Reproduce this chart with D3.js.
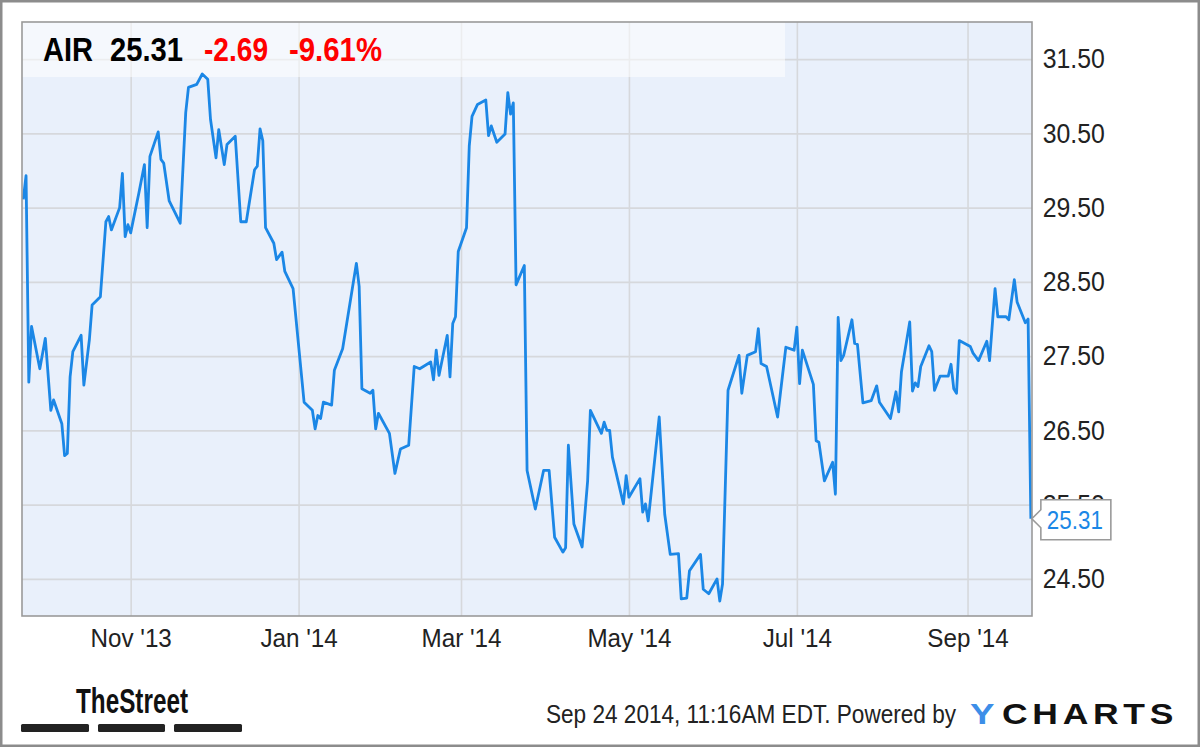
<!DOCTYPE html>
<html><head><meta charset="utf-8">
<script src="https://cdn.jsdelivr.net/npm/d3@7"></script>
<style>html,body{margin:0;padding:0;background:#fff;} svg{display:block;}</style>
</head><body><svg id="c" width="1200" height="747"></svg>
<script>
// ---- data ----
const dates = ["2013-09-23","2013-09-24","2013-09-25","2013-09-26","2013-09-29","2013-10-01","2013-10-03","2013-10-04","2013-10-07","2013-10-08","2013-10-09","2013-10-10","2013-10-11","2013-10-14","2013-10-15","2013-10-17","2013-10-18","2013-10-21","2013-10-23","2013-10-24","2013-10-25","2013-10-28","2013-10-29","2013-10-30","2013-10-31","2013-11-01","2013-11-04","2013-11-06","2013-11-07","2013-11-08","2013-11-11","2013-11-12","2013-11-13","2013-11-15","2013-11-19","2013-11-21","2013-11-22","2013-11-25","2013-11-27","2013-11-29","2013-11-30","2013-12-02","2013-12-03","2013-12-05","2013-12-06","2013-12-09","2013-12-11","2013-12-13","2013-12-16","2013-12-17","2013-12-18","2013-12-19","2013-12-20","2013-12-23","2013-12-24","2013-12-26","2013-12-27","2013-12-30","2014-01-03","2014-01-06","2014-01-07","2014-01-08","2014-01-09","2014-01-10","2014-01-13","2014-01-14","2014-01-17","2014-01-22","2014-01-23","2014-01-24","2014-01-27","2014-01-28","2014-01-29","2014-01-30","2014-02-03","2014-02-05","2014-02-07","2014-02-10","2014-02-12","2014-02-14","2014-02-18","2014-02-19","2014-02-20","2014-02-21","2014-02-24","2014-02-25","2014-02-26","2014-02-27","2014-02-28","2014-03-03","2014-03-04","2014-03-05","2014-03-07","2014-03-10","2014-03-11","2014-03-12","2014-03-14","2014-03-17","2014-03-18","2014-03-19","2014-03-20","2014-03-21","2014-03-24","2014-03-25","2014-03-28","2014-03-31","2014-04-02","2014-04-04","2014-04-07","2014-04-08","2014-04-09","2014-04-11","2014-04-14","2014-04-16","2014-04-17","2014-04-21","2014-04-22","2014-04-23","2014-04-24","2014-04-25","2014-04-29","2014-04-30","2014-05-01","2014-05-05","2014-05-06","2014-05-07","2014-05-08","2014-05-12","2014-05-14","2014-05-16","2014-05-19","2014-05-20","2014-05-22","2014-05-23","2014-05-27","2014-05-28","2014-05-30","2014-06-02","2014-06-03","2014-06-04","2014-06-06","2014-06-10","2014-06-11","2014-06-13","2014-06-16","2014-06-17","2014-06-18","2014-06-20","2014-06-24","2014-06-27","2014-06-30","2014-07-01","2014-07-02","2014-07-03","2014-07-07","2014-07-08","2014-07-09","2014-07-11","2014-07-14","2014-07-15","2014-07-16","2014-07-17","2014-07-18","2014-07-21","2014-07-22","2014-07-23","2014-07-25","2014-07-28","2014-07-30","2014-07-31","2014-08-04","2014-08-06","2014-08-07","2014-08-08","2014-08-11","2014-08-12","2014-08-13","2014-08-14","2014-08-15","2014-08-18","2014-08-19","2014-08-20","2014-08-22","2014-08-25","2014-08-26","2014-08-27","2014-08-28","2014-08-29","2014-09-02","2014-09-03","2014-09-05","2014-09-08","2014-09-09","2014-09-11","2014-09-12","2014-09-15","2014-09-16","2014-09-18","2014-09-19","2014-09-22","2014-09-23","2014-09-24"];
const prices = [29.61,29.93,27.15,27.90,27.33,27.74,26.77,26.91,26.59,26.16,26.19,27.22,27.56,27.78,27.11,27.72,28.19,28.30,29.31,29.38,29.20,29.50,29.96,29.11,29.27,29.16,29.70,30.08,29.23,30.19,30.52,30.15,30.10,29.59,29.29,30.78,31.12,31.16,31.30,31.23,30.69,30.17,30.55,30.08,30.35,30.46,29.31,29.31,30.01,30.06,30.56,30.40,29.23,29.02,28.80,28.90,28.64,28.41,26.88,26.77,26.52,26.70,26.66,26.88,26.84,27.31,27.60,28.75,28.44,27.06,27.00,27.04,26.52,26.73,26.46,25.92,26.25,26.30,27.36,27.33,27.42,27.18,27.58,27.24,27.78,27.22,27.94,28.03,28.91,29.23,30.33,30.73,30.89,30.95,30.47,30.60,30.38,30.49,31.05,30.76,30.91,28.46,28.72,25.96,25.44,25.96,25.96,25.06,24.86,24.92,26.30,25.24,24.93,25.82,26.77,26.46,26.61,26.50,26.50,26.14,25.51,25.89,25.60,25.85,25.40,25.51,25.28,26.68,25.37,24.83,24.84,24.23,24.24,24.61,24.83,24.36,24.30,24.50,24.20,24.43,27.04,27.51,27.00,27.51,27.56,27.87,27.40,27.36,26.68,27.62,27.58,27.89,27.13,27.58,27.12,26.36,26.34,25.82,26.07,25.64,28.02,27.44,27.51,27.99,27.67,27.66,26.87,26.90,27.10,26.88,26.66,27.02,26.75,27.29,27.96,27.03,27.14,27.09,27.36,27.64,27.56,27.04,27.23,27.23,27.39,27.06,27.00,27.71,27.63,27.54,27.44,27.70,27.44,28.41,28.03,28.03,27.99,28.53,28.23,27.95,28.00,25.31];
const yTickValues = [24.5,25.5,26.5,27.5,28.5,29.5,30.5,31.5];
const xTickDates = ["2013-11-01","2014-01-01","2014-03-01","2014-05-01","2014-07-01","2014-09-01"];
const xTickLabels = ["Nov '13","Jan '14","Mar '14","May '14","Jul '14","Sep '14"];
const xDomain = ["2013-09-22T12:40","2014-09-24T10:00"];
const yDomain = [24, 32];
const ticker = "AIR", lastLabel = "25.31", change = "-2.69", changePct = "-9.61%";
const footerText = "Sep 24 2014, 11:16AM EDT. Powered by";
const brandLeft = "TheStreet";
const brandY = "Y", brandRest = "CHARTS";

// ---- drawing ----
const parseD = d3.timeParse("%Y-%m-%d");
const parseDT = d3.timeParse("%Y-%m-%dT%H:%M");
const data = dates.map((d,i)=>({date:parseD(d), price:prices[i]}));
const svg = d3.select("#c");
const FONT = "'Liberation Sans', Arial, sans-serif";
const L=22, T=22, R=1032, B=616;

const x = d3.scaleTime().domain(xDomain.map(parseDT)).range([L,R]);
const y = d3.scaleLinear().domain(yDomain).range([B,T]);

svg.append("rect").attr("x",0).attr("y",0).attr("width",1200).attr("height",747).attr("fill","#fff");
svg.append("rect").attr("x",1.25).attr("y",1.25).attr("width",1197.5).attr("height",744.5)
  .attr("fill","none").attr("stroke","#8c8c8c").attr("stroke-width",2.5);

svg.append("rect").attr("x",L).attr("y",T).attr("width",R-L).attr("height",B-T).attr("fill","#e9f0fb");

// grid
const gy = svg.append("g").attr("transform",`translate(${L},0)`)
  .call(d3.axisRight(y).tickValues(yTickValues).tickSize(R-L).tickFormat(""));
gy.select(".domain").remove();
gy.selectAll("line").attr("stroke","#d6d8dc").attr("stroke-width",1.6);
const gx = svg.append("g").attr("transform",`translate(0,${B})`)
  .call(d3.axisBottom(x).tickValues(xTickDates.map(parseD)).tickSize(-(B-T)).tickFormat(""));
gx.select(".domain").remove();
gx.selectAll("line").attr("stroke","#d6d8dc").attr("stroke-width",1.6);

// header band
svg.append("rect").attr("x",L).attr("y",T).attr("width",785-L).attr("height",77-T)
  .attr("fill","#ffffff").attr("fill-opacity",0.55);

// price line
svg.append("path").datum(data)
  .attr("d", d3.line().x(d=>x(d.date)).y(d=>y(d.price)))
  .attr("fill","none").attr("stroke","#1b87e6").attr("stroke-width",2.8)
  .attr("stroke-linejoin","round");

// plot border
svg.append("rect").attr("x",L).attr("y",T).attr("width",R-L).attr("height",B-T)
  .attr("fill","none").attr("stroke","#9a9a9a").attr("stroke-width",1.6);

// y axis labels
const ay = svg.append("g").attr("transform",`translate(${R},0)`)
  .call(d3.axisRight(y).tickValues(yTickValues).tickSize(0).tickFormat(d3.format(".2f")));
ay.select(".domain").remove();
ay.selectAll("text").attr("font-family",FONT).attr("font-size",27).attr("fill","#222")
  .attr("x", 11.6).attr("dy","0.32em").attr("transform","scale(0.92,1)");

// x axis labels
const ax = svg.append("g").attr("transform",`translate(0,${B})`)
  .call(d3.axisBottom(x).tickValues(xTickDates.map(parseD)).tickSize(0)
     .tickFormat((d,i)=>xTickLabels[i]));
ax.select(".domain").remove();
ax.selectAll("text").attr("font-family",FONT).attr("font-size",25.5).attr("fill","#222")
  .attr("y",0).attr("dy",null).attr("transform","translate(0,31) scale(0.95,1)");

// callout for last value
const last = data[data.length-1];
const px = x(last.date), py = y(last.price);
const bx = px+10, bw = 70, bt = py-19, bb = py+21;
svg.append("path")
  .attr("d",`M${bx},${bt} H${bx+bw} V${bb} H${bx} V${py+9} L${px+1},${py} L${bx},${py-9} Z`)
  .attr("fill","#fff").attr("stroke","#9a9a9a").attr("stroke-width",1.6);
svg.append("text").attr("x",bx+6).attr("y",py+10).attr("font-family",FONT)
  .attr("font-size",26).attr("fill","#1b87e6").attr("textLength",56).attr("lengthAdjust","spacingAndGlyphs")
  .text(lastLabel);

// header text
function txt(str, x0, yb, size, weight, fill, len){
  return svg.append("text").attr("x",x0).attr("y",yb).attr("font-family",FONT)
    .attr("font-size",size).attr("font-weight",weight).attr("fill",fill)
    .attr("textLength",len).attr("lengthAdjust","spacingAndGlyphs").text(str);
}
txt(ticker, 43, 61, 33, "bold", "#000", 50);
txt(lastLabel, 110, 61, 33, "bold", "#000", 73);
txt(change, 204, 61, 33, "bold", "#ff0000", 64);
txt(changePct, 289, 61, 33, "bold", "#ff0000", 93);

// footer
txt(brandLeft, 76, 712.5, 35, "bold", "#111", 112);
const bars = [[21,89],[98,165],[174,242]];
bars.forEach(b=>svg.append("rect").attr("x",b[0]).attr("y",724).attr("width",b[1]-b[0]).attr("height",8)
  .attr("rx",1.5).attr("fill","#222"));
txt(footerText, 546, 723, 25, "normal", "#222", 410);
txt(brandY, 970, 723.5, 29, "bold", "#3d8ee8", 24.5);
svg.append("text").attr("x",1002).attr("y",723.5).attr("font-family",FONT).attr("font-size",30)
  .attr("font-weight","bold").attr("fill","#111").attr("letter-spacing",4)
  .attr("textLength",176).attr("lengthAdjust","spacingAndGlyphs")
  .text(brandRest);
</script></body></html>
